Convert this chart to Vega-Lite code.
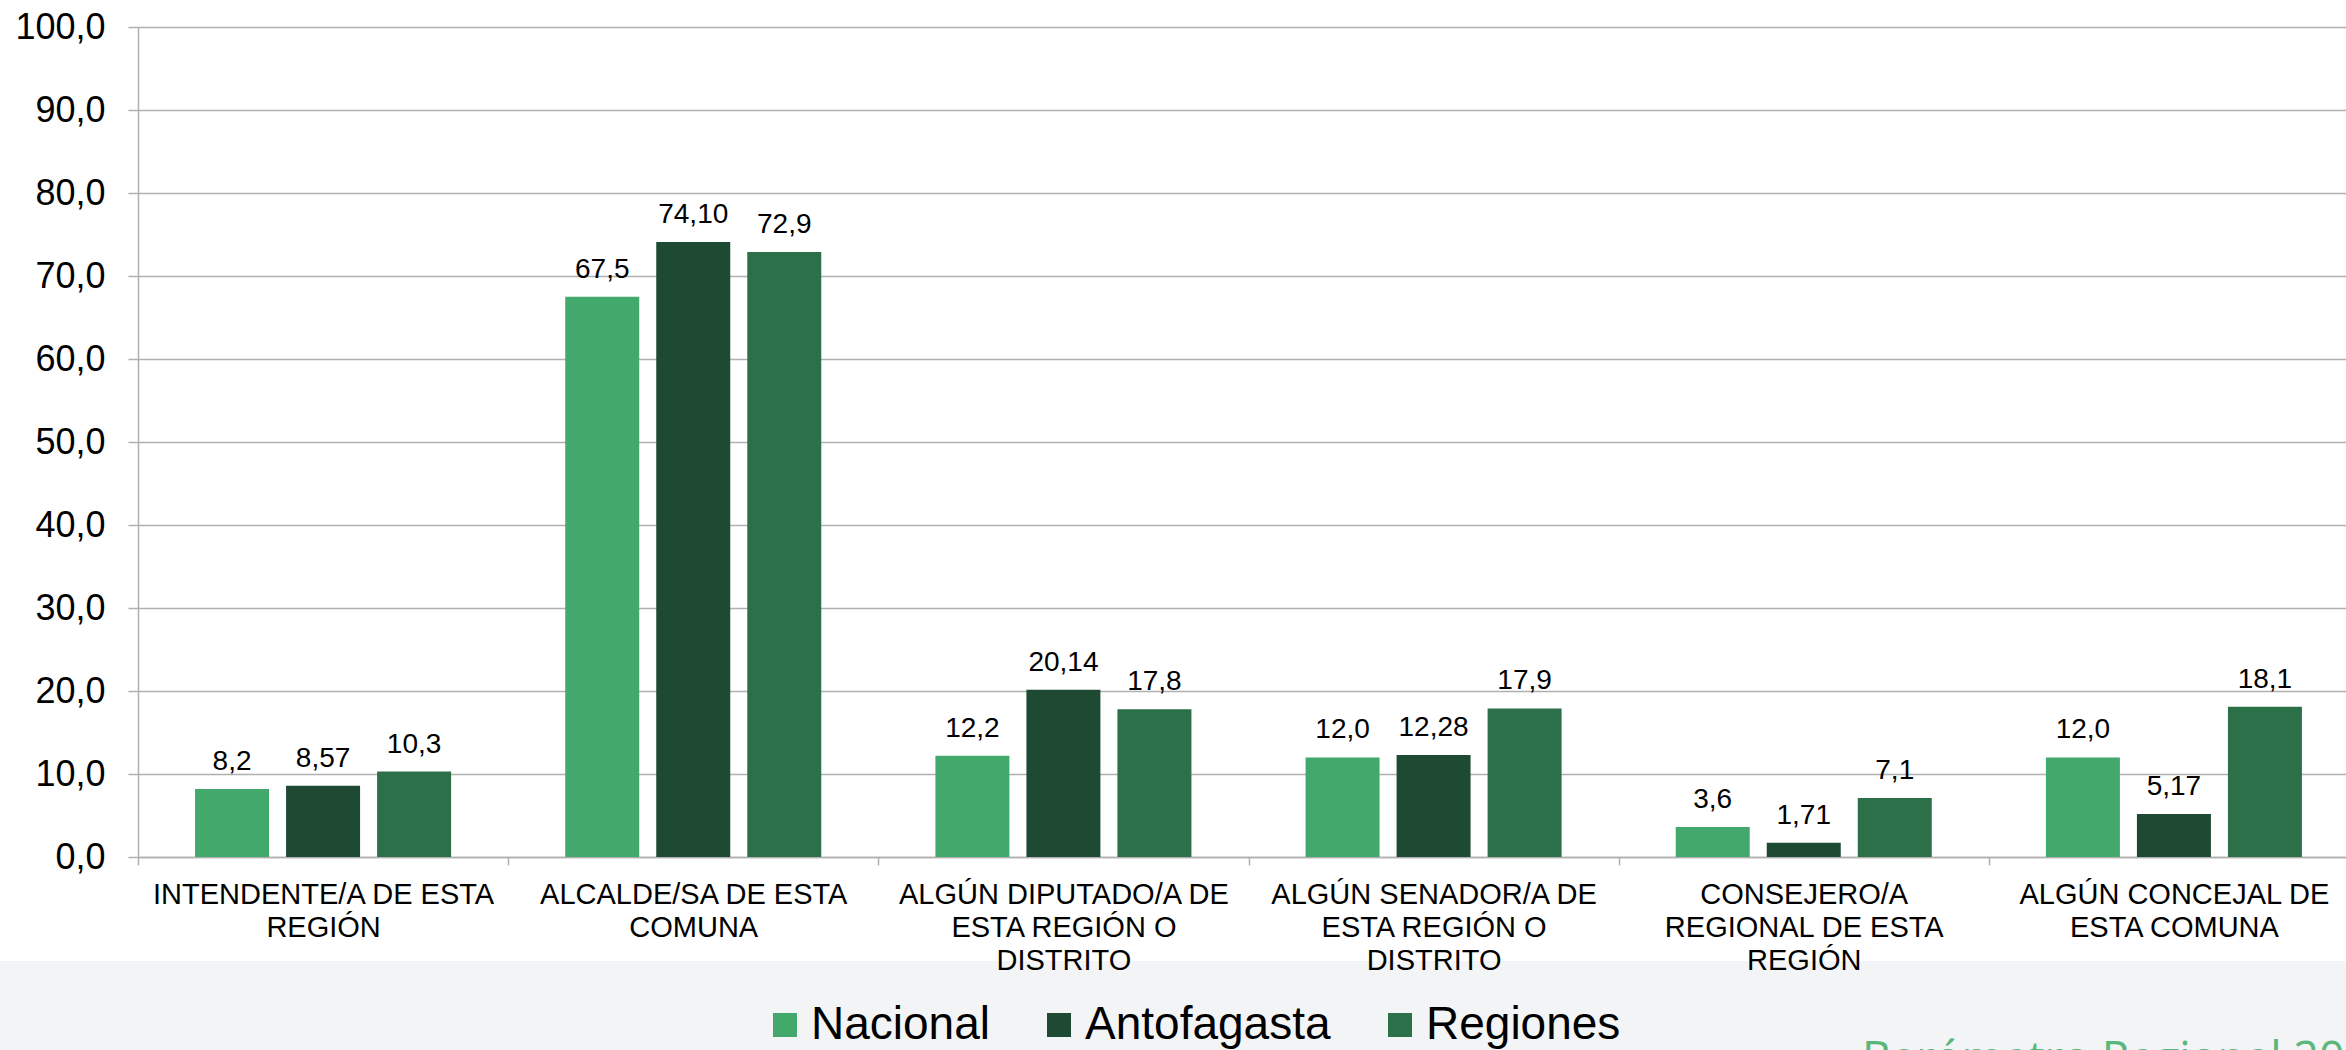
{
  "$schema": "https://vega.github.io/schema/vega-lite/v6.json",
  "width": 2346,
  "height": 961,
  "autosize": {"type": "none"},
  "padding": {"left": 0, "top": 0, "right": 0, "bottom": 89},
  "background": "#f3f4f6",
  "config": {"view": {"fill": "white", "stroke": null}, "font": "Liberation Sans"},
  "title": {"text": "Barómetro Regional 2019", "orient": "top", "anchor": "start", "frame": "group", "dx": 1862, "dy": 1119, "offset": 0, "baseline": "alphabetic", "font": "Open Sans", "fontSize": 45, "fontWeight": "normal", "color": "#5ab77c"},
  "data": {"values": [
    {"cat": "INTENDENTE/A DE ESTA|REGIÓN", "serie": "Nacional", "valor": 8.2, "etiqueta": "8,2"},
    {"cat": "INTENDENTE/A DE ESTA|REGIÓN", "serie": "Antofagasta", "valor": 8.57, "etiqueta": "8,57"},
    {"cat": "INTENDENTE/A DE ESTA|REGIÓN", "serie": "Regiones", "valor": 10.3, "etiqueta": "10,3"},
    {"cat": "ALCALDE/SA DE ESTA|COMUNA", "serie": "Nacional", "valor": 67.5, "etiqueta": "67,5"},
    {"cat": "ALCALDE/SA DE ESTA|COMUNA", "serie": "Antofagasta", "valor": 74.10, "etiqueta": "74,10"},
    {"cat": "ALCALDE/SA DE ESTA|COMUNA", "serie": "Regiones", "valor": 72.9, "etiqueta": "72,9"},
    {"cat": "ALGÚN DIPUTADO/A DE|ESTA REGIÓN O|DISTRITO", "serie": "Nacional", "valor": 12.2, "etiqueta": "12,2"},
    {"cat": "ALGÚN DIPUTADO/A DE|ESTA REGIÓN O|DISTRITO", "serie": "Antofagasta", "valor": 20.14, "etiqueta": "20,14"},
    {"cat": "ALGÚN DIPUTADO/A DE|ESTA REGIÓN O|DISTRITO", "serie": "Regiones", "valor": 17.8, "etiqueta": "17,8"},
    {"cat": "ALGÚN SENADOR/A DE|ESTA REGIÓN O|DISTRITO", "serie": "Nacional", "valor": 12.0, "etiqueta": "12,0"},
    {"cat": "ALGÚN SENADOR/A DE|ESTA REGIÓN O|DISTRITO", "serie": "Antofagasta", "valor": 12.28, "etiqueta": "12,28"},
    {"cat": "ALGÚN SENADOR/A DE|ESTA REGIÓN O|DISTRITO", "serie": "Regiones", "valor": 17.9, "etiqueta": "17,9"},
    {"cat": "CONSEJERO/A|REGIONAL DE ESTA|REGIÓN", "serie": "Nacional", "valor": 3.6, "etiqueta": "3,6"},
    {"cat": "CONSEJERO/A|REGIONAL DE ESTA|REGIÓN", "serie": "Antofagasta", "valor": 1.71, "etiqueta": "1,71"},
    {"cat": "CONSEJERO/A|REGIONAL DE ESTA|REGIÓN", "serie": "Regiones", "valor": 7.1, "etiqueta": "7,1"},
    {"cat": "ALGÚN CONCEJAL DE|ESTA COMUNA", "serie": "Nacional", "valor": 12.0, "etiqueta": "12,0"},
    {"cat": "ALGÚN CONCEJAL DE|ESTA COMUNA", "serie": "Antofagasta", "valor": 5.17, "etiqueta": "5,17"},
    {"cat": "ALGÚN CONCEJAL DE|ESTA COMUNA", "serie": "Regiones", "valor": 18.1, "etiqueta": "18,1"}
  ]},
  "encoding": {
    "x": {
      "field": "cat", "type": "nominal", "sort": null,
      "scale": {"range": [138, 2359], "paddingInner": 0, "paddingOuter": 0},
      "axis": {"title": null, "orient": "bottom", "offset": -104, "labelExpr": "split(datum.label, '|')", "labelFontSize": 29, "labelLineHeight": 33, "labelColor": "black", "labelPadding": 15, "labelAngle": 0, "labelLimit": 0, "tickBand": "extent", "tickSize": 8, "tickColor": "#b0b0b0", "tickWidth": 1.5, "domainColor": "#b0b0b0", "domainWidth": 1.5, "grid": false}
    },
    "xOffset": {"field": "serie", "type": "nominal", "sort": ["Nacional", "Antofagasta", "Regiones"], "scale": {"paddingInner": 0.187, "paddingOuter": 0.627}},
    "y": {
      "field": "valor", "type": "quantitative",
      "scale": {"domain": [0, 100], "range": [857, 27], "nice": false},
      "axis": {"title": null, "offset": -138, "values": [0, 10, 20, 30, 40, 50, 60, 70, 80, 90, 100], "labelExpr": "replace(format(datum.value, '.1f'), '.', ',')", "labelFontSize": 36, "labelColor": "black", "labelPadding": 23, "tickSize": 10, "tickColor": "#b0b0b0", "tickWidth": 1.5, "domainColor": "#b0b0b0", "domainWidth": 1.5, "gridColor": "#b0b0b0", "gridWidth": 1.5}
    }
  },
  "layer": [
    {
      "mark": {"type": "bar"},
      "encoding": {
        "color": {
          "field": "serie", "type": "nominal",
          "scale": {"domain": ["Nacional", "Antofagasta", "Regiones"], "range": ["#43a86c", "#1e4a33", "#2c7049"]},
          "legend": {"title": null, "orient": "none", "direction": "horizontal", "legendX": 762, "legendY": 1002, "symbolType": "square", "symbolSize": 576, "symbolStrokeWidth": 0, "labelFontSize": 46, "labelOffset": 3, "columnPadding": 46, "padding": 0, "labelLimit": 0, "labelColor": "black"}
        }
      }
    },
    {
      "mark": {"type": "text", "dy": -19, "baseline": "alphabetic", "fontSize": 28, "color": "black"},
      "encoding": {"text": {"field": "etiqueta", "type": "nominal"}}
    }
  ]
}
